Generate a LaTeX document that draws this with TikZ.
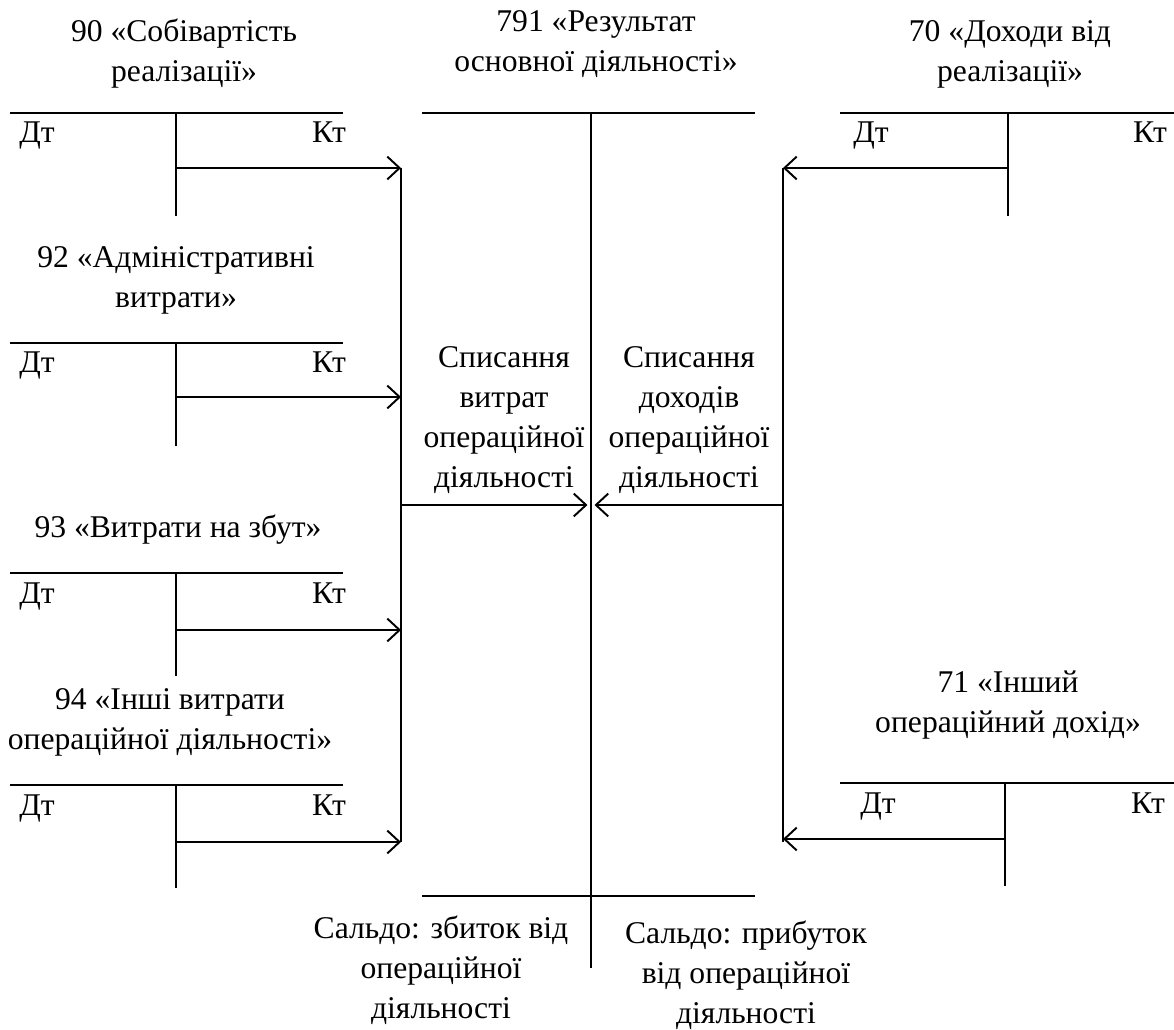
\documentclass[tikz,border=0pt]{standalone}
\usepackage{fontspec}
\setmainfont{Liberation Serif}
\usetikzlibrary{arrows.meta}

\begin{document}
\begin{tikzpicture}[x=0.02cm, y=-0.02cm, line width=1.1pt,
  >={Straight Barb[length=7pt, width=13pt]},
  lbl/.style={inner sep=0pt, align=center, font=\fontsize{18}{22.76}\selectfont},
  side/.style={inner sep=0pt, anchor=base, font=\fontsize{18}{22.76}\selectfont}]
  \useasboundingbox (0,0) rectangle (1174,1030);
  % Left accounts: name / top line / arrow level
  \foreach \n/\y/\a in {cost/113/168, adm/343/397, sale/573/630, other/785/842} {
    \draw (10,\y) -- (343,\y);
    \draw (176,\y) -- (176,\y+103);
    \node[side] (\n-dt) at (37,\y+30) {Дт};
    \node[side] (\n-kt) at (329,\y+30) {Кт};
    \coordinate (\n) at (176,\a);
    \coordinate (\n-in) at (401,\a);
    \draw[->] (\n) -- (\n-in);
  }
  \node[lbl] (t90) at (184,54) {90 «Собівартість\\реалізації»};
  \node[lbl] (t92) at (176,280) {92 «Адміністративні\\витрати»};
  \node[lbl] (t93) at (178,530) {93 «Витрати на збут»};
  \node[lbl] (t94) at (170,722) {94 «Інші витрати\\операційної діяльності»};
  % Main account 791
  \coordinate (top) at (591,113);
  \coordinate (bot) at (591,968);
  \draw (422,113) -- (755,113);
  \draw (422,896) -- (755,896);
  \draw (top) -- (bot);
  \node[lbl] (t791) at (596,44) {791 «Результат\\основної діяльності»};
  % Left collecting bar
  \draw (cost-in) -- (other-in);
  \coordinate (lmid) at (401,505);
  \coordinate (cmid) at (591,505);
  \draw[->, shorten >=2pt] (lmid) -- (cmid);
  \node[lbl] (exp) at (504,420) {Списання\\витрат\\операційної\\діяльності};
  % Right accounts
  \draw (840,113) -- (1174,113);
  \draw (1008,113) -- (1008,216);
  \node[side] (inc-dt) at (871,143) {Дт};
  \node[side] (inc-kt) at (1150,143) {Кт};
  \coordinate (inc) at (1008,168);
  \coordinate (inc-in) at (783,168);
  \draw[->] (inc) -- (inc-in);
  \node[lbl] (t70) at (1010,54) {70 «Доходи від\\реалізації»};
  \draw (840,783) -- (1174,783);
  \draw (1005,783) -- (1005,886);
  \node[side] (oinc-dt) at (878,813) {Дт};
  \node[side] (oinc-kt) at (1148,813) {Кт};
  \coordinate (oinc) at (1005,839);
  \coordinate (oinc-in) at (783,839);
  \draw[->] (oinc) -- (oinc-in);
  \node[lbl] (t71) at (1008,705) {71 «Інший\\операційний дохід»};
  % Right collecting bar
  \coordinate (rend) at (783,842);
  \draw (inc-in) -- (rend);
  \coordinate (rmid) at (783,505);
  \draw[->, shorten >=2pt] (rmid) -- (cmid);
  \node[lbl] (inc-text) at (689,420) {Списання\\доходів\\операційної\\діяльності};
  % Balances
  \node[lbl] (loss) at (441,970) {Сальдо: збиток від\\операційної\\діяльності};
  \node[lbl] (profit) at (746,975) {Сальдо: прибуток\\від операційної\\діяльності};
\end{tikzpicture}
\end{document}
